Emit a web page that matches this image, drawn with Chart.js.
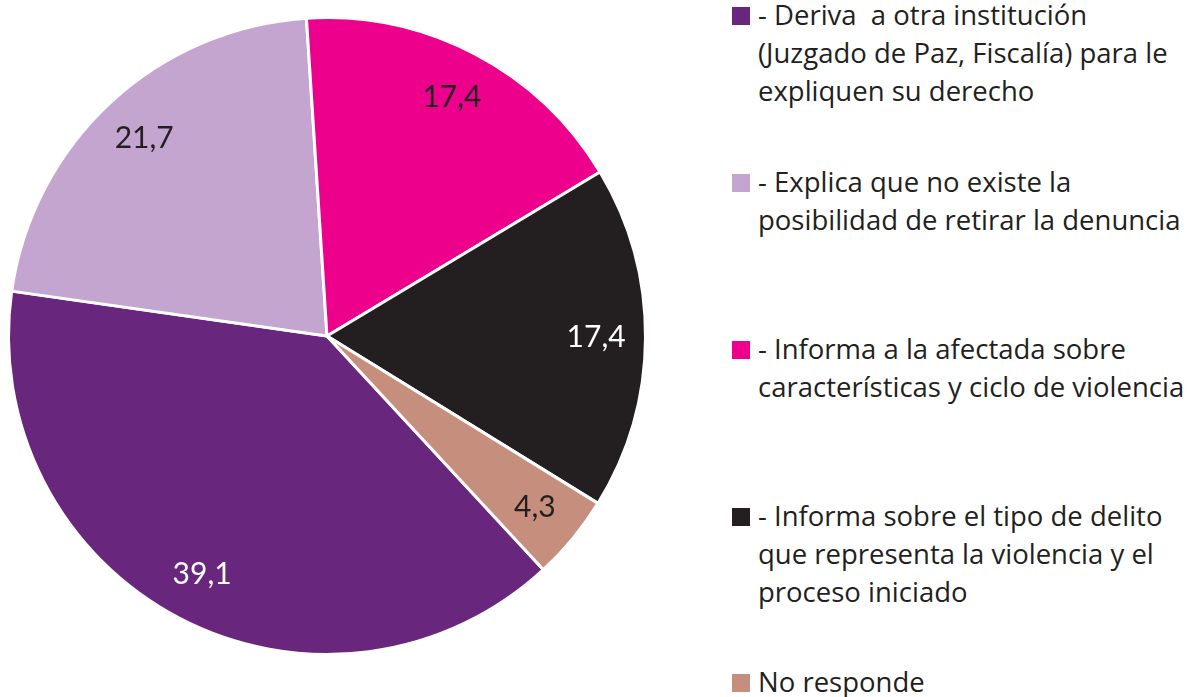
<!DOCTYPE html>
<html>
<head>
<meta charset="utf-8">
<script src="https://cdn.jsdelivr.net/npm/chart.js@4"></script>
<style>
  html, body { margin: 0; padding: 0; background: #fff; }
  body { width: 1192px; height: 697px; position: relative; overflow: hidden; font-family: "Open Sans", Lato, sans-serif; }
  #chartBox { position: absolute; left: 0; top: 0; width: 660px; height: 697px; }
  .lg-sw { position: absolute; width: 18px; height: 18px; left: 732px; }
  .lg-tx { position: absolute; left: 758px; font-size: 27.5px; line-height: 38px; color: #231F20; white-space: pre; }
</style>
</head>
<body>
<div id="chartBox"><canvas id="c"></canvas></div>
<div id="legend"></div>
<script>
// ---- data ----
const categories = [
  "- Deriva  a otra institución (Juzgado de Paz, Fiscalía) para le expliquen su derecho",
  "- Explica que no existe la posibilidad de retirar la denuncia",
  "- Informa a la afectada sobre características y ciclo de violencia",
  "- Informa sobre el tipo de delito que representa la violencia y el proceso iniciado",
  "No responde"
];
const legendLines = [
  ["- Deriva  a otra institución", "(Juzgado de Paz, Fiscalía) para le", "expliquen su derecho"],
  ["- Explica que no existe la", "posibilidad de retirar la denuncia"],
  ["- Informa a la afectada sobre", "características y ciclo de violencia"],
  ["- Informa sobre el tipo de delito", "que representa la violencia y el", "proceso iniciado"],
  ["No responde"]
];
const values = [39.1, 21.7, 17.4, 17.4, 4.3];
const valueLabels = ["39,1", "21,7", "17,4", "17,4", "4,3"];

// ---- styles ----
const colors = ["#68267D", "#C3A5CF", "#EC008C", "#231F20", "#C68E7C"];
const labelColors = ["#FFFFFF", "#231F20", "#231F20", "#FFFFFF", "#231F20"];
const legendBaselines = [25, 192, 359, 526, 692];

const valueLabelPlugin = {
  id: 'valueLabels',
  afterDatasetsDraw(chart) {
    const ctx = chart.ctx;
    const meta = chart.getDatasetMeta(0);
    ctx.save();
    ctx.font = '30px Lato, "Open Sans", sans-serif';
    ctx.textAlign = 'center';
    ctx.textBaseline = 'middle';
    meta.data.forEach((arc, i) => {
      const p = arc.getProps(['x', 'y', 'startAngle', 'endAngle', 'outerRadius'], true);
      const mid = (p.startAngle + p.endAngle) / 2;
      const r = p.outerRadius * 0.845;
      ctx.fillStyle = labelColors[i];
      ctx.fillText(valueLabels[i], p.x + Math.cos(mid) * r, p.y + Math.sin(mid) * r);
    });
    ctx.restore();
  }
};

new Chart(document.getElementById('c'), {
  type: 'pie',
  data: {
    labels: categories,
    datasets: [{
      data: values,
      backgroundColor: colors,
      borderColor: '#FFFFFF',
      borderWidth: 3
    }]
  },
  options: {
    responsive: true,
    maintainAspectRatio: false,
    animation: false,
    rotation: 137.2,
    layout: { padding: { left: 7, right: 13, top: 16, bottom: 41 } },
    plugins: { legend: { display: false }, tooltip: { enabled: false } }
  },
  plugins: [valueLabelPlugin]
});

// ---- HTML legend ----
const legend = document.getElementById('legend');
legendLines.forEach((lines, i) => {
  const sw = document.createElement('div');
  sw.className = 'lg-sw';
  sw.style.background = colors[i];
  sw.style.top = (legendBaselines[i] - 18) + 'px';
  legend.appendChild(sw);
  const tx = document.createElement('div');
  tx.className = 'lg-tx';
  lines.forEach((ln, j) => {
    if (j > 0) tx.appendChild(document.createElement('br'));
    tx.appendChild(document.createTextNode(ln));
  });
  tx.style.top = '0px';
  legend.appendChild(tx);
  const probe = document.createElement('span');
  probe.style.cssText = 'display:inline-block;width:0;height:0;vertical-align:baseline;';
  tx.insertBefore(probe, tx.firstChild);
  const off = probe.getBoundingClientRect().top - tx.getBoundingClientRect().top;
  tx.removeChild(probe);
  tx.style.top = (legendBaselines[i] - off) + 'px';
});
</script>
</body>
</html>
